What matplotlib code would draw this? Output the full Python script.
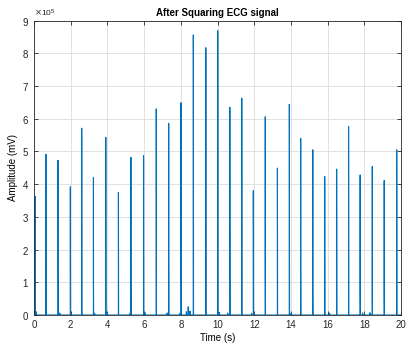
import numpy as np
import matplotlib
matplotlib.use("Agg")
import matplotlib.pyplot as plt
from matplotlib.ticker import ScalarFormatter

# Beat times (s), squared peak amplitude and neighbouring-sample amplitude (x1e5)
beat_times = [0.07, 0.65, 1.31, 1.98, 2.60, 3.24, 3.91, 4.60, 5.28, 5.97,
              6.66, 7.34, 8.01, 8.68, 9.36, 10.01, 10.67, 11.32, 11.95, 12.60,
              13.26, 13.91, 14.53, 15.19, 15.84, 16.49, 17.14, 17.77, 18.43, 19.08, 19.76]
peak_vals = [3.62, 4.91, 4.73, 3.92, 5.71, 4.20, 5.43, 3.75, 4.82, 4.87,
             6.30, 5.86, 6.49, 8.56, 8.17, 8.69, 6.35, 6.63, 3.80, 6.06,
             4.49, 6.44, 5.40, 5.05, 4.23, 4.46, 5.76, 4.28, 4.54, 4.11, 5.05]
side_vals = [0.95, 2.14, 3.18, 2.80, 4.50, 0.98, 4.77, 2.67, 0.92, 2.80,
             4.34, 1.77, 2.50, 7.19, 7.85, 6.93, 4.83, 5.60, 2.65, 1.60,
             3.36, 5.40, 1.40, 0.56, 1.87, 3.31, 4.37, 0.92, 0.40, 0.53, 3.77]
# Small baseline bumps (squared P/T waves), x1e5
bump_times = [0.12, 1.40, 3.30, 3.98, 5.22, 6.05, 7.25, 7.95, 8.30, 8.40, 8.50, 10.10, 10.55, 11.85, 14.00, 16.10, 17.90, 18.30]
bump_vals = [0.10, 0.06, 0.05, 0.08, 0.04, 0.07, 0.06, 0.05, 0.10, 0.25, 0.12, 0.08, 0.06, 0.05, 0.05, 0.05, 0.06, 0.07]

fs = 360
t = np.arange(0, 20, 1 / fs)
sig = np.zeros_like(t)
for bt, bv in zip(bump_times, bump_vals):
    i = int(round(bt * fs))
    sig[i - 2:i + 3] = np.maximum(sig[i - 2:i + 3], bv)
for bt, pv, sv in zip(beat_times, peak_vals, side_vals):
    i = int(round(bt * fs))
    sig[i] = pv
    if i + 1 < len(sig):
        sig[i + 1] = sv
sig = sig * 1e5

plt.rcParams['font.family'] = ['Liberation Sans', 'DejaVu Sans']
fig = plt.figure(figsize=(4.07, 3.46), dpi=100)
ax = fig.add_axes([0.0835, 0.0896, 0.902, 0.851])
ax.plot(t, sig, color='#0072BD', linewidth=0.8)
ax.set_xlim(0, 20)
ax.set_ylim(0, 9e5)
ax.set_xticks(np.arange(0, 21, 2))
ax.set_yticks(np.arange(0, 9.1e5, 1e5))
fmt = ScalarFormatter(useMathText=True)
fmt.set_powerlimits((0, 0))
ax.yaxis.set_major_formatter(fmt)
ax.yaxis.get_offset_text().set_fontsize(6)
ax.yaxis.get_offset_text().set_color('#404040')
ax.grid(True, color='#dcdcdc', linewidth=0.6)
ax.set_axisbelow(True)
ax.tick_params(direction='in', top=True, right=True, labelsize=7, colors='#262626',
               length=3, width=0.6)
for s in ax.spines.values():
    s.set_color('#262626')
    s.set_linewidth(0.6)
ax.set_title('After Squaring ECG signal', fontsize=7, fontweight='bold', pad=3)
ax.set_xlabel('Time (s)', fontsize=7, labelpad=2)
ax.set_ylabel('Amplitude (mV)', fontsize=7, labelpad=3)
fig.savefig('out.png', dpi=100)
